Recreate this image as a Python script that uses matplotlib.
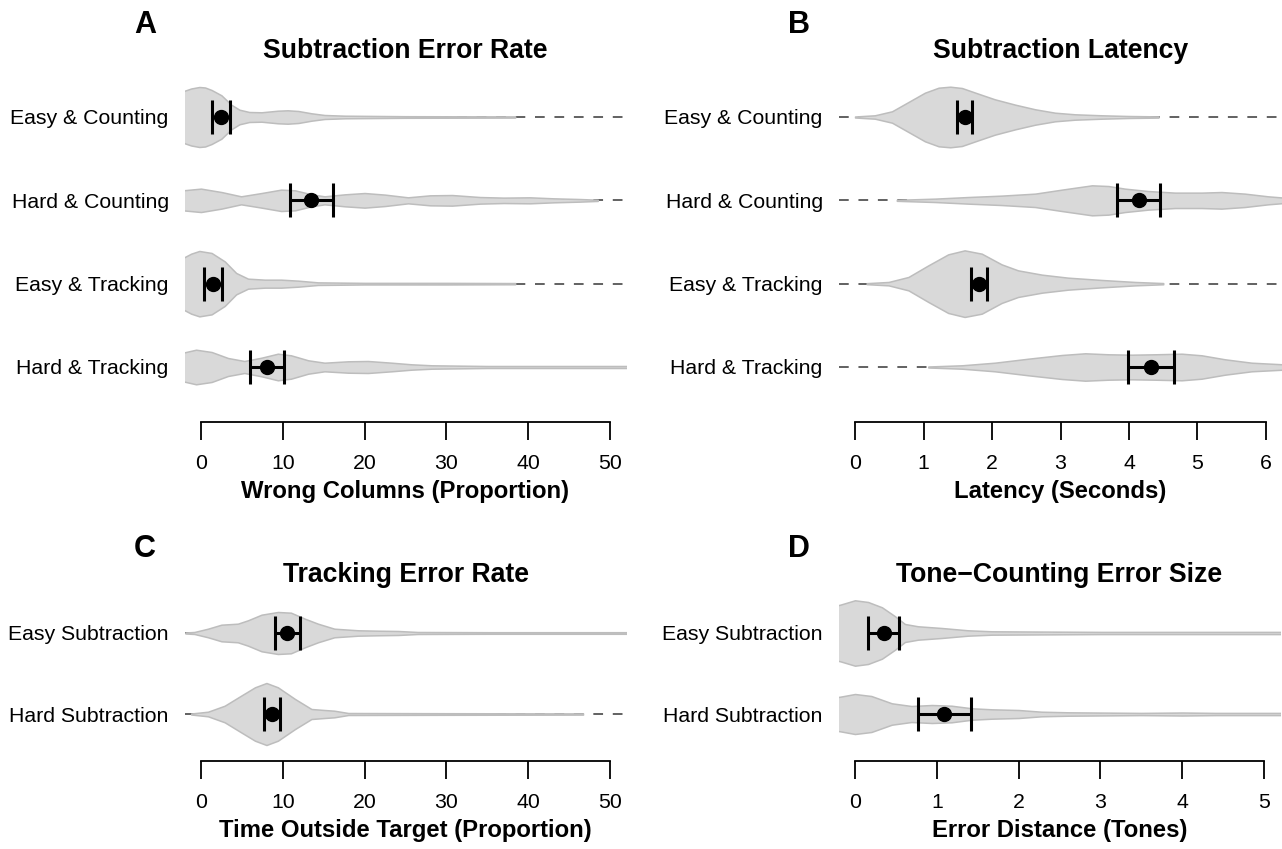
import matplotlib
matplotlib.use("Agg")
import matplotlib.pyplot as plt

plt.rcParams['font.family'] = ['Liberation Sans', 'DejaVu Sans']
plt.rcParams['lines.scale_dashes'] = False

# ---- panel A: subtraction error rate ----
a_labels = ["Easy & Counting", "Hard & Counting", "Easy & Tracking", "Hard & Tracking"]
a_mean = [2.5, 13.5, 1.5, 8.1]
a_lo = [1.3, 10.9, 0.4, 6.0]
a_hi = [3.6, 16.1, 2.6, 10.2]
a_vx = [
    [-2.5, -2.2, -1.2, -0.2, 0.5, 1.3, 2.5, 3.7, 4.7, 5.9, 7.4, 9.4, 10.6, 11.9, 13.5, 15.1, 17.6, 25, 38.4],
    [-2.5, -2.2, 0, 2.5, 4.9, 7.4, 9.8, 11.5, 13.5, 15.1, 17.6, 20.0, 22.5, 25.3, 28.0, 30.7, 34.1, 37.0, 40.2, 43.1, 46.3, 48.5],
    [-2.5, -2.2, -1.2, -0.2, 1.3, 2.9, 4.3, 5.75, 7.8, 9.8, 11.9, 14.3, 20, 30, 38.4],
    [-2.5, -2.2, -0.6, 1.3, 3.3, 5.3, 7.4, 9.4, 11.0, 13.1, 15.1, 18.0, 20.4, 23.3, 25.7, 28.2, 35, 45, 52.5],
]
a_vw = [
    [23, 25.7, 28.5, 30, 29.5, 27, 21.7, 12.3, 7.3, 5, 4.7, 6.3, 6.7, 6, 3.7, 2, 1.3, 0.8, 0.6],
    [9.7, 10, 11.7, 8.3, 4, 7.3, 10.7, 10, 6, 4, 6, 7.3, 5.7, 3, 5, 5.3, 3.3, 2.7, 3, 2, 1.3, 0.6],
    [24, 25.7, 30, 32.7, 30.7, 22.3, 10.7, 5, 4, 4, 3, 1.3, 0.8, 0.8, 0.6],
    [14, 14.3, 17.3, 15, 9, 6, 9.3, 13.3, 11.7, 6.7, 4.3, 5.7, 6, 4.3, 2.7, 1.7, 1.0, 1.0, 1.0],
]

# ---- panel B: subtraction latency ----
b_labels = a_labels
b_mean = [1.60, 4.15, 1.81, 4.32]
b_lo = [1.49, 3.83, 1.69, 3.99]
b_hi = [1.71, 4.46, 1.92, 4.66]
b_vx = [
    [0.0, 0.29, 0.54, 0.78, 1.02, 1.22, 1.39, 1.56, 1.8, 2.04, 2.34, 2.63, 2.92, 3.21, 3.6, 3.99, 4.43],
    [0.61, 1.17, 1.65, 2.14, 2.63, 3.02, 3.46, 3.7, 3.94, 4.28, 4.67, 5.06, 5.35, 5.69, 6.03, 6.3],
    [0.17, 0.49, 0.78, 1.07, 1.36, 1.6, 1.85, 2.14, 2.38, 2.73, 3.11, 3.6, 4.09, 4.5],
    [1.07, 1.56, 2.04, 2.53, 3.02, 3.36, 3.7, 4.04, 4.38, 4.77, 5.06, 5.4, 5.79, 6.3],
]
b_vw = [
    [0.5, 1.7, 5.7, 15, 24.3, 29.3, 30.3, 29, 23.3, 17.7, 12.3, 7.7, 4.3, 2.7, 1.7, 1, 0.6],
    [0.5, 1.7, 3.3, 4.7, 6.7, 10.7, 15, 14.3, 11.7, 9.3, 7.7, 7.7, 8.3, 6.7, 4, 2.5],
    [0.5, 1.7, 6.7, 18.3, 29.3, 33.3, 30, 19.3, 13.3, 9, 6, 3.7, 1.7, 0.6],
    [0.5, 1.7, 4.3, 8.3, 12, 13.7, 12.7, 12.3, 12.7, 13.3, 11.7, 7.7, 4.3, 2.5],
]

# ---- panel C: tracking error rate ----
c_labels = ["Easy Subtraction", "Hard Subtraction"]
c_mean = [10.5, 8.7]
c_lo = [9.1, 7.7]
c_hi = [12.1, 9.7]
c_vx = [
    [-1.9, -0.8, 0.86, 2.5, 4.5, 5.75, 7.4, 9.4, 11.0, 12.7, 14.3, 16.3, 19.2, 21.6, 24.1, 26.5, 35, 45, 52.5],
    [-1.2, 0.86, 2.9, 4.9, 6.6, 8.0, 9.4, 11.5, 13.5, 15.1, 16.3, 18.0, 30, 46.7],
]
c_vw = [
    [0.5, 1, 4.3, 8.3, 9.3, 12.7, 18.3, 21, 20.3, 14.3, 9.3, 4.3, 2.7, 2.3, 2, 1, 0.8, 0.8, 0.8],
    [0.5, 2.3, 8.3, 18.3, 26.7, 31, 26.7, 15, 5, 4, 3.3, 1, 0.8, 0.6],
]

# ---- panel D: tone-counting error size ----
d_labels = c_labels
d_mean = [0.36, 1.09]
d_lo = [0.16, 0.77]
d_hi = [0.54, 1.42]
d_vx = [
    [-0.25, -0.18, 0.0, 0.16, 0.33, 0.49, 0.61, 0.77, 1.06, 1.38, 1.67, 3, 4, 5.3],
    [-0.25, -0.18, 0.0, 0.2, 0.45, 0.69, 0.94, 1.18, 1.43, 1.67, 2.0, 2.28, 2.61, 3.5, 4.0, 4.4, 5.3],
]
d_vw = [
    [27, 28.3, 32.7, 31, 25.7, 16.7, 9, 6.7, 5, 2.7, 1.7, 1.1, 1.1, 1.1],
    [16.5, 17.3, 20, 18, 10.7, 8, 9, 8.3, 5.7, 4.7, 4, 2.3, 1.7, 1.1, 1.5, 1.1, 1.1],
]

W, H = 1282, 849
fig = plt.figure(figsize=(W / 100, H / 100), dpi=100)


def panel(box, xmax, ticks, labels, mean, lo, hi, vx, vw, title, xlabel, letter):
    x0, y0, x1, y1 = box
    ax = fig.add_axes([x0 / W, 1 - y1 / H, (x1 - x0) / W, (y1 - y0) / H])
    n = len(labels)
    ext = 0.04 * xmax
    ax.set_xlim(-ext, xmax + ext)
    ylo, yhi = 0.5 - 0.04 * n, n + 0.5 + 0.04 * n
    ax.set_ylim(ylo, yhi)
    unit = (y1 - y0) / (yhi - ylo)   # pixels per row
    rows = [n - i for i in range(n)]
    for i, y in enumerate(rows):
        ax.axhline(y, color='#555555', lw=1.3, dashes=(7, 7), zorder=1)
        w = [v / unit for v in vw[i]]
        ax.fill_between(vx[i], [y - v for v in w], [y + v for v in w],
                        facecolor='#d9d9d9', edgecolor='#bdbdbd', lw=1.1, zorder=2)
        ax.errorbar(mean[i], y, xerr=[[mean[i] - lo[i]], [hi[i] - mean[i]]],
                    fmt='o', color='black', ms=10, elinewidth=2.2,
                    capsize=12, capthick=2.2, zorder=3)
    for s in ['left', 'right', 'top']:
        ax.spines[s].set_visible(False)
    ax.spines['bottom'].set_bounds(ticks[0], ticks[-1])
    ax.spines['bottom'].set_linewidth(1.3)
    ax.set_xticks(ticks)
    ax.tick_params(axis='x', length=13, width=1.3, labelsize=15.3, pad=10)
    ax.set_yticks(rows)
    ax.set_yticklabels(labels)
    ax.tick_params(axis='y', length=0, labelsize=15.3, pad=11.5)
    ax.set_xlabel(xlabel, fontsize=17.2, fontweight='bold', labelpad=5)
    cx = (x0 + x1) / 2
    fig.text(cx / W, 1 - (y0 - 4.5) / H, title, ha='center', va='baseline',
             fontsize=19.2, fontweight='bold')
    fig.text((x0 - 39.6) / W, 1 - (y0 - 29) / H, letter, ha='center', va='baseline',
             fontsize=22, fontweight='bold')
    return ax


panel((184.6, 62, 626.4, 422), 50, [0, 10, 20, 30, 40, 50], a_labels, a_mean, a_lo, a_hi,
      a_vx, a_vw, "Subtraction Error Rate", "Wrong Columns (Proportion)", "A")
panel((838.6, 62, 1282.4, 422), 6, [0, 1, 2, 3, 4, 5, 6], b_labels, b_mean, b_lo, b_hi,
      b_vx, b_vw, "Subtraction Latency", "Latency (Seconds)", "B")
panel((184.6, 586, 626.4, 761), 50, [0, 10, 20, 30, 40, 50], c_labels, c_mean, c_lo, c_hi,
      c_vx, c_vw, "Tracking Error Rate", "Time Outside Target (Proportion)", "C")
panel((838.6, 586, 1280.4, 761), 5, [0, 1, 2, 3, 4, 5], d_labels, d_mean, d_lo, d_hi,
      d_vx, d_vw, "Tone\u2212Counting Error Size", "Error Distance (Tones)", "D")

fig.savefig("out.png", dpi=100)
